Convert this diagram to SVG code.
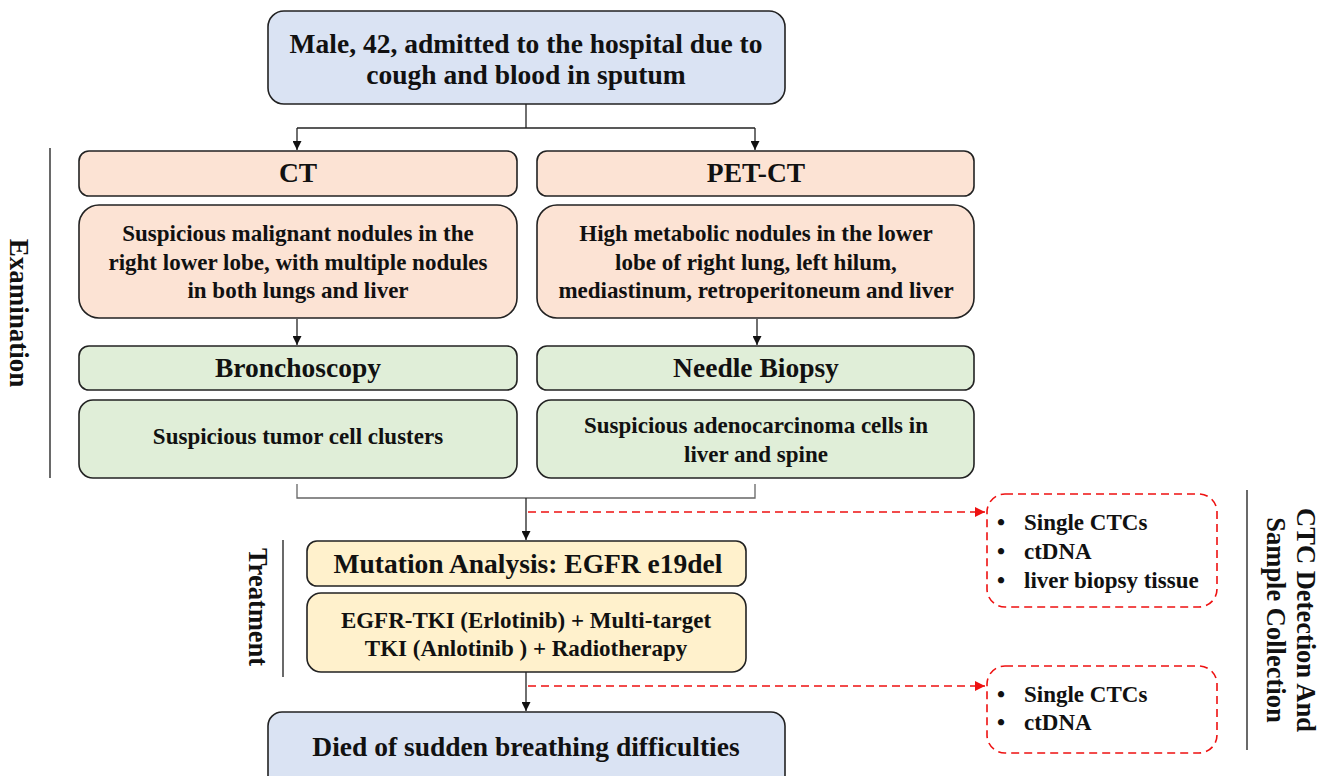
<svg xmlns="http://www.w3.org/2000/svg" width="1333" height="776" viewBox="0 0 1333 776">
<defs>
<style>
text{font-family:"Liberation Serif","Times New Roman",serif;font-weight:bold;fill:#111;}
.t{font-size:27.5px;text-anchor:middle;}
.s{font-size:23px;text-anchor:middle;}
.b{font-size:23px;}
.box{stroke:#222;stroke-width:1.6;}
.blue{fill:#dae3f3;}
.org{fill:#fce3d4;}
.grn{fill:#e0eed8;}
.yel{fill:#fff1cc;}
.ln{stroke:#222;stroke-width:1.3;fill:none;}
.gl{stroke:#666;stroke-width:1.3;fill:none;}
.red{stroke:#ee1111;stroke-width:1.6;fill:none;stroke-dasharray:8 5;}
.sep{stroke:#444;stroke-width:1.6;}
</style>
<marker id="ah" viewBox="0 0 10 10" refX="10" refY="5" markerWidth="9" markerHeight="9" markerUnits="userSpaceOnUse" orient="auto"><path d="M0,0 L10,5 L0,10 z" fill="#111"/></marker>
<marker id="rh" viewBox="0 0 10 10" refX="10" refY="5" markerWidth="10" markerHeight="10" markerUnits="userSpaceOnUse" orient="auto"><path d="M0,0 L10,5 L0,10 z" fill="#ee1111"/></marker>
</defs>

<g id="connectors">
<path class="ln" d="M526,104 V128"/>
<path class="ln" d="M297,128 H755"/>
<path class="ln" d="M297,128 V150" marker-end="url(#ah)"/>
<path class="ln" d="M755,128 V150" marker-end="url(#ah)"/>
<path class="ln" d="M297,319 V345" marker-end="url(#ah)"/>
<path class="ln" d="M757,319 V345" marker-end="url(#ah)"/>
<path class="gl" d="M297,484 V498 H755 V484"/>
<path class="ln" d="M526,498 V540" marker-end="url(#ah)"/>
<path class="ln" d="M526,672 V711" marker-end="url(#ah)"/>
<path class="red" d="M528,512 H985" marker-end="url(#rh)"/>
<path class="red" d="M528,686 H985" marker-end="url(#rh)"/>
</g>

<g id="start"><rect class="box blue" x="268" y="11" width="517" height="93" rx="16"/>
<text class="t" x="526" y="53">Male, 42, admitted to the hospital due to</text>
<text class="t" x="526" y="84">cough and blood in sputum</text></g>

<g id="ct"><rect class="box org" x="79" y="151" width="438" height="45" rx="10"/>
<text class="t" x="298" y="182">CT</text></g>
<g id="petct"><rect class="box org" x="537" y="151" width="437" height="45" rx="10"/>
<text class="t" x="756" y="182">PET-CT</text></g>

<g id="ct-result"><rect class="box org" x="79" y="205" width="438" height="113" rx="20"/>
<text class="s" x="298" y="241">Suspicious malignant nodules in the</text>
<text class="s" x="298" y="270">right lower lobe, with multiple nodules</text>
<text class="s" x="298" y="298">in both lungs and liver</text></g>
<g id="pet-result"><rect class="box org" x="537" y="205" width="437" height="113" rx="20"/>
<text class="s" x="756" y="241">High metabolic nodules in the lower</text>
<text class="s" x="756" y="270">lobe of right lung, left hilum,</text>
<text class="s" x="756" y="298">mediastinum, retroperitoneum and liver</text></g>

<g id="bronchoscopy"><rect class="box grn" x="79" y="346" width="438" height="44" rx="10"/>
<text class="t" x="298" y="377">Bronchoscopy</text></g>
<g id="needle"><rect class="box grn" x="537" y="346" width="437" height="44" rx="10"/>
<text class="t" x="756" y="377">Needle Biopsy</text></g>

<g id="tumor"><rect class="box grn" x="79" y="400" width="438" height="78" rx="14"/>
<text class="s" x="298" y="444">Suspicious tumor cell clusters</text></g>
<g id="adeno"><rect class="box grn" x="537" y="400" width="437" height="78" rx="14"/>
<text class="s" x="756" y="433">Suspicious adenocarcinoma cells in</text>
<text class="s" x="756" y="462">liver and spine</text></g>

<g id="mutation"><rect class="box yel" x="307" y="541" width="439" height="45" rx="10"/>
<text class="t" x="528" y="573">Mutation Analysis: EGFR e19del</text></g>
<g id="therapy"><rect class="box yel" x="307" y="593" width="439" height="79" rx="14"/>
<text class="s" x="526" y="628">EGFR-TKI (Erlotinib) + Multi-target</text>
<text class="s" x="526" y="656">TKI (Anlotinib ) + Radiotherapy</text></g>

<g id="died"><rect class="box blue" x="268" y="712" width="517" height="80" rx="14"/>
<text class="t" x="526" y="756">Died of sudden breathing difficulties</text></g>

<g id="sample1"><rect class="red" x="987" y="494" width="230" height="113" rx="18"/>
<text class="b" x="997" y="530">•</text><text class="b" x="1024" y="530">Single CTCs</text>
<text class="b" x="997" y="559">•</text><text class="b" x="1024" y="559">ctDNA</text>
<text class="b" x="997" y="588">•</text><text class="b" x="1024" y="588">liver biopsy tissue</text></g>
<g id="sample2"><rect class="red" x="987" y="666" width="230" height="87" rx="18"/>
<text class="b" x="997" y="702">•</text><text class="b" x="1024" y="702">Single CTCs</text>
<text class="b" x="997" y="730">•</text><text class="b" x="1024" y="730">ctDNA</text></g>

<g id="examination-label"><line class="sep" x1="50" y1="148" x2="50" y2="478"/>
<text class="t" style="font-size:27px" transform="translate(19,313) rotate(90)" dominant-baseline="central">Examination</text></g>
<g id="treatment-label"><line class="sep" x1="283" y1="540" x2="283" y2="677"/>
<text class="t" style="font-size:26.5px" transform="translate(258,607) rotate(90)" dominant-baseline="central">Treatment</text></g>
<g id="ctc-label"><line class="sep" x1="1247" y1="490" x2="1247" y2="750"/>
<text class="t" style="font-size:26.5px" transform="translate(1306,620) rotate(90)" dominant-baseline="central">CTC Detection And</text>
<text class="t" style="font-size:26.5px" transform="translate(1276,620) rotate(90)" dominant-baseline="central">Sample Collection</text></g>
</svg>
